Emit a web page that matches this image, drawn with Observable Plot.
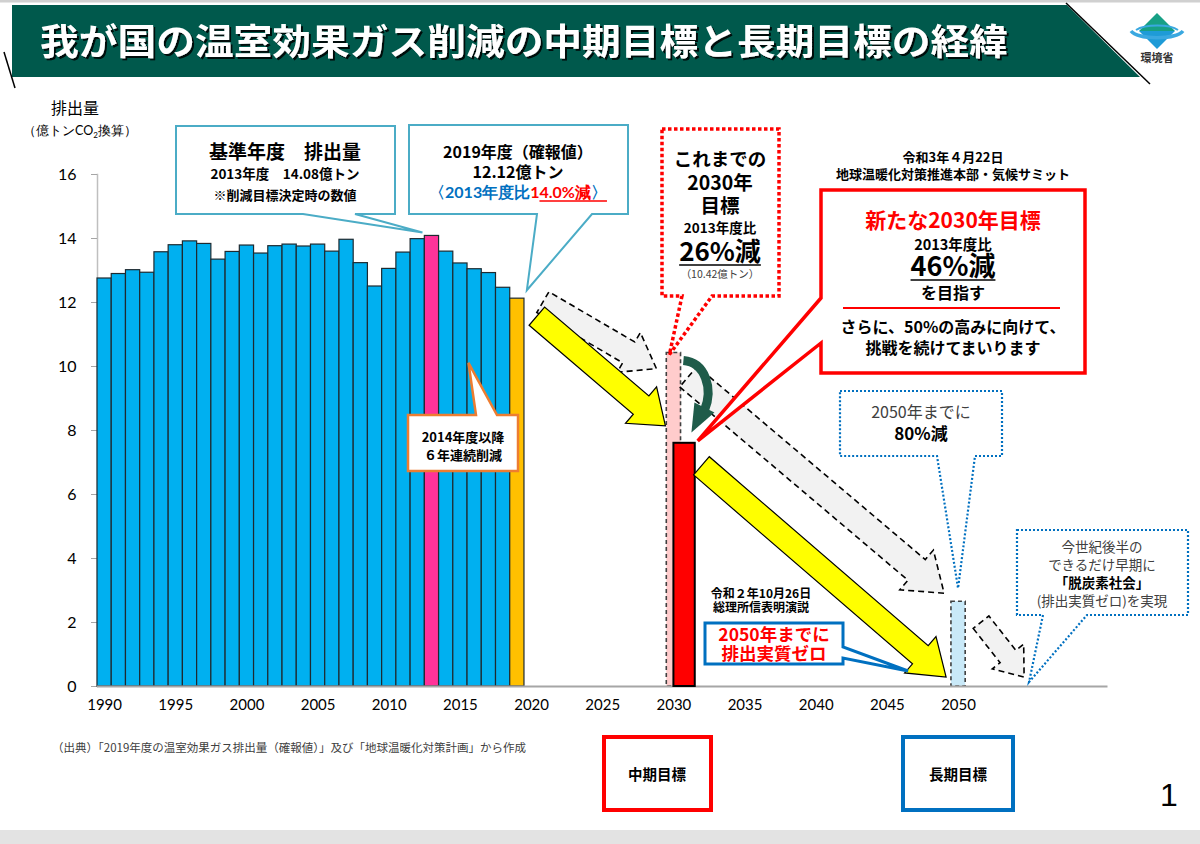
<!DOCTYPE html>
<html lang="ja">
<head>
<meta charset="utf-8">
<script src="https://cdn.jsdelivr.net/npm/d3@7"></script>
<script src="https://cdn.jsdelivr.net/npm/@observablehq/plot@0.6"></script>
<style>
  html, body { margin: 0; padding: 0; background: #fff; }
  #chart { width: 1200px; height: 844px; position: relative; }
</style>
</head>
<body>
<div id="chart"></div>
<script>
// ---------------- data ----------------
const histYears = [1990,1991,1992,1993,1994,1995,1996,1997,1998,1999,2000,2001,2002,2003,2004,2005,2006,2007,2008,2009,2010,2011,2012,2013,2014,2015,2016,2017,2018,2019];
const histValues = [12.75,12.89,13.01,12.93,13.57,13.79,13.91,13.83,13.34,13.58,13.78,13.53,13.76,13.81,13.75,13.81,13.59,13.96,13.23,12.50,13.05,13.56,13.98,14.08,13.59,13.22,13.04,12.92,12.46,12.12];
const baseYear = 2013;
const latestYear = 2019;
const targetYear2030 = 2030;
const targetYear2050 = 2050;
const oldTarget2030 = 10.42;   // 26%減
const newTarget2030 = 7.60;    // 46%減
const target2050 = 2.65;       // 80%減
const xTickYears = [1990,1995,2000,2005,2010,2015,2020,2025,2030,2035,2040,2045,2050];
const yTicks = [0,2,4,6,8,10,12,14,16];

const hist = histYears.map((year, i) => ({year, value: histValues[i]}));
const valueOf = y => histValues[histYears.indexOf(y)];

const JP = "'Noto Sans CJK JP', 'Noto Sans', sans-serif";

const plot = Plot.plot({
  width: 1200, height: 844,
  marginLeft: 97, marginRight: 92.5, marginTop: 174, marginBottom: 158,
  style: {fontFamily: "Lato, sans-serif", background: "transparent", color: "#000"},
  x: {domain: [1989.5, 2060.5], label: null},
  y: {domain: [0, 16], label: null},
  marks: [
    Plot.frame({anchor: "left", stroke: "#bfbfbf", strokeWidth: 1.5}),
    Plot.axisY(yTicks, {tickSize: 6, tickPadding: 15, stroke: "#a6a6a6", fill: "#000", fontSize: 16, label: null}),
    Plot.axisX(xTickYears, {tickSize: 0, tickPadding: 13, fill: "#000", fontSize: 15, tickFormat: d => String(d), label: null}),
    Plot.rectY(hist, {
      x1: d => d.year - 0.5, x2: d => d.year + 0.5, y: "value",
      fill: d => d.year === baseYear ? "#ff3399" : d.year === latestYear ? "#ffc000" : "#00b0f0",
      stroke: "#1e2a30", strokeWidth: 1.2
    }),
    Plot.rectY([oldTarget2030], {x1: targetYear2030 - 0.5, x2: targetYear2030 + 0.5, y: d => d,
      fill: "#ffcccc", stroke: "#404040", strokeWidth: 1.6, strokeDasharray: "4 3"}),
    Plot.rectY([target2050], {x1: targetYear2050 - 0.5, x2: targetYear2050 + 0.5, y: d => d,
      fill: "#c9e9f8", stroke: "#404040", strokeWidth: 1.6, strokeDasharray: "4 3"}),
    Plot.ruleY([0], {stroke: "#a6a6a6", strokeWidth: 2})
  ]
});
document.getElementById("chart").appendChild(plot);

// scales
const sx = plot.scale("x"), sy = plot.scale("y");
const X = d3.scaleLinear(sx.domain, sx.range);
const Y = d3.scaleLinear(sy.domain, sy.range);

const svg = d3.select(plot);
svg.attr("font-family", JP);

// drop shadow filter for title
const defs = svg.append("defs");
const f = defs.append("filter").attr("id", "tshadow").attr("x", "-5%").attr("y", "-20%").attr("width", "110%").attr("height", "150%");
f.append("feDropShadow").attr("dx", 2).attr("dy", 2).attr("stdDeviation", 0.6).attr("flood-color", "#000").attr("flood-opacity", 0.85);

// ---------- helpers ----------
function text(g, x, y, str, o = {}) {
  const t = g.append("text").attr("x", x).attr("y", y)
    .attr("text-anchor", o.anchor || "middle")
    .attr("font-family", o.family || JP)
    .attr("font-size", o.size || 14)
    .attr("font-weight", o.weight || "bold")
    .attr("fill", o.fill || "#000");
  if (o.len) t.attr("textLength", o.len).attr("lengthAdjust", "spacingAndGlyphs");
  t.text(str);
  return t;
}
function underline(g, t, dy, color, w) {
  const bb = t.node().getBBox();
  g.append("line").attr("x1", bb.x).attr("x2", bb.x + bb.width)
    .attr("y1", +t.attr("y") + dy).attr("y2", +t.attr("y") + dy)
    .attr("stroke", color).attr("stroke-width", w);
}
function callout(x0, y0, x1, y1, side, b1, b2, tip) {
  const [tx, ty] = tip;
  if (side === "bottom") return `M${x0},${y0}L${x1},${y0}L${x1},${y1}L${b2},${y1}L${tx},${ty}L${b1},${y1}L${x0},${y1}Z`;
  if (side === "top") return `M${x0},${y0}L${b1},${y0}L${tx},${ty}L${b2},${y0}L${x1},${y0}L${x1},${y1}L${x0},${y1}Z`;
  if (side === "left") return `M${x0},${y0}L${x1},${y0}L${x1},${y1}L${x0},${y1}L${x0},${b2}L${tx},${ty}L${x0},${b1}Z`;
  return `M${x0},${y0}L${x1},${y0}L${x1},${b1}L${tx},${ty}L${x1},${b2}L${x1},${y1}L${x0},${y1}Z`;
}
function arrow(tail, tip, sw, hw, hl) {
  const dx = tip[0] - tail[0], dy = tip[1] - tail[1];
  const L = Math.hypot(dx, dy), ux = dx / L, uy = dy / L, nx = -uy, ny = ux;
  const nk = [tip[0] - ux * hl, tip[1] - uy * hl];
  const p = (b, s) => [b[0] + nx * s, b[1] + ny * s];
  const pts = [p(tail, sw/2), p(nk, sw/2), p(nk, hw/2), tip, p(nk, -hw/2), p(nk, -sw/2), p(tail, -sw/2)];
  return "M" + pts.map(q => q.map(v => v.toFixed(1)).join(",")).join("L") + "Z";
}

// ---------- new target bar (red) ----------
const gBars = svg.append("g");
gBars.append("rect").attr("x", X(targetYear2030)).attr("width", X(targetYear2030 + 1.5) - X(targetYear2030))
  .attr("y", Y(newTarget2030)).attr("height", Y(0) - Y(newTarget2030))
  .attr("fill", "#ff0000").attr("stroke", "#000").attr("stroke-width", 2);

// ---------- arrows ----------
const gA = svg.append("g");
const x19 = X(latestYear), y19 = Y(valueOf(latestYear));
const x30 = X(targetYear2030), yOld = Y(oldTarget2030), yNew = Y(newTarget2030);
const x50 = X(targetYear2050), y50 = Y(target2050), y0 = Y(0);
const grayStyle = s => s.attr("fill", "#f2f2f2").attr("stroke", "#000").attr("stroke-width", 1.6).attr("stroke-dasharray", "6 4");
const yellowStyle = s => s.attr("fill", "#ffff00").attr("stroke", "#000").attr("stroke-width", 1.2);

grayStyle(gA.append("path").attr("d", arrow([x19 + 26, y19 + 4], [x30 - 17, yOld + 16], 24, 46, 32)));
grayStyle(gA.append("path").attr("d", arrow([x30 + 15, yOld + 24], [x50 - 14, y50 - 8], 27, 52, 36)));
grayStyle(gA.append("path").attr("d", arrow([x50 + 23, y50 + 21], [x50 + 66, y0 - 9], 20, 40, 26)));
yellowStyle(gA.append("path").attr("d", arrow([x19 + 20, y19 + 18], [x30 - 8, yNew - 17], 24, 48, 32)));
yellowStyle(gA.append("path").attr("d", arrow([x30 + 28, yNew + 23], [x50 - 12, y0 - 9], 24, 48, 34)));

// curved green arrow (old target -> new target)
gA.append("path")
  .attr("d", `M${x30 + 10},${yOld + 8} C${x30 + 32},${yOld + 10} ${x30 + 40},${yOld + 36} ${x30 + 31},${yOld + 58}`)
  .attr("fill", "none").attr("stroke", "#1f5c4a").attr("stroke-width", 9);
gA.append("path")
  .attr("d", `M${x30 + 21},${yOld + 50} L${x30 + 41},${yOld + 60} L${x30 + 18},${yOld + 80} Z`)
  .attr("fill", "#1f5c4a");

// ---------- callouts ----------
const gC = svg.append("g");
// 1. base year
gC.append("path").attr("d", callout(176, 126, 395, 214, "bottom", 303, 355, [X(baseYear) - 9, Y(valueOf(baseYear)) - 3]))
  .attr("fill", "#fff").attr("stroke", "#4bacc6").attr("stroke-width", 2);
text(gC, 285, 159, "基準年度　排出量", {size: 19});
text(gC, 285, 179, "2013年度　14.08億トン", {size: 13.5});
text(gC, 285, 200, "※削減目標決定時の数値", {size: 13});

// 2. latest year
gC.append("path").attr("d", callout(409, 125, 628, 214, "bottom", 537, 592, [x19 + 10, y19 - 8]))
  .attr("fill", "#fff").attr("stroke", "#4bacc6").attr("stroke-width", 2);
text(gC, 518, 158, "2019年度（確報値）", {size: 16});
text(gC, 518, 178, "12.12億トン", {size: 16});
{
  const t = gC.append("text").attr("x", 518).attr("y", 198).attr("text-anchor", "middle")
    .attr("font-size", 16).attr("font-weight", "bold").attr("fill", "#0070c0");
  t.append("tspan").text("〈2013年度比");
  t.append("tspan").attr("fill", "#ff0000").text("14.0%減");
  t.append("tspan").text("〉");
  const tl = t.node().getComputedTextLength();
  const startX = 518 - tl / 2;
  const pre = t.node().getSubStringLength(0, 9);
  const redW = t.node().getSubStringLength(9, 6);
  gC.append("line").attr("x1", startX + pre).attr("x2", startX + pre + redW).attr("y1", 201).attr("y2", 201)
    .attr("stroke", "#ff0000").attr("stroke-width", 1.5);
}

// 3. continuous decline
gC.append("path").attr("d", callout(408, 415, 518, 471, "top", 476, 497, [X(2015.6), Y(10.1)]))
  .attr("fill", "#fff").attr("stroke", "#ed7d31").attr("stroke-width", 2.5);
text(gC, 463, 442, "2014年度以降", {size: 13});
text(gC, 463, 460, "６年連続削減", {size: 13});

// 4. old 2030 target (red dotted)
gC.append("path").attr("d", callout(662, 129, 779, 296, "bottom", 682, 712, [x30 - 4, yOld + 2]))
  .attr("fill", "#fff").attr("stroke", "#ff0000").attr("stroke-width", 3.5).attr("stroke-dasharray", "3.5 2.5");
text(gC, 720, 166, "これまでの", {size: 18.5});
text(gC, 720, 190, "2030年", {size: 19.5});
text(gC, 720, 213, "目標", {size: 19.5});
text(gC, 720, 233, "2013年度比", {size: 13.5});
underline(gC, text(gC, 720, 261, "26%減", {size: 26}), 4, "#000", 1.6);
text(gC, 720, 278, "（10.42億トン）", {size: 10.5, weight: "normal", fill: "#404040"});

// 5. new 2030 target (red box)
text(gC, 953, 162, "令和3年４月22日", {size: 13});
text(gC, 953, 179, "地球温暖化対策推進本部・気候サミット", {size: 13});
gC.append("path").attr("d", callout(821, 190, 1085, 373, "left", 298, 343, [X(targetYear2030 + 1.5) + 3, yNew - 2]))
  .attr("fill", "#fff").attr("stroke", "#ff0000").attr("stroke-width", 3.5);
text(gC, 953, 228, "新たな2030年目標", {size: 21, fill: "#ff0000"});
text(gC, 953, 250, "2013年度比", {size: 14.5});
underline(gC, text(gC, 953, 276, "46%減", {size: 27}), 4, "#000", 1.6);
text(gC, 953, 299, "を目指す", {size: 16});
gC.append("line").attr("x1", 843).attr("x2", 1060).attr("y1", 308).attr("y2", 308).attr("stroke", "#ff0000").attr("stroke-width", 2);
text(gC, 953, 333, "さらに、50%の高みに向けて、", {size: 16});
text(gC, 953, 354, "挑戦を続けてまいります", {size: 16});

// 6. 2050 80% (blue dotted)
gC.append("path").attr("d", callout(840, 391, 1002, 456, "bottom", 937, 975, [x50, y50 - 13]))
  .attr("fill", "#fff").attr("stroke", "#0070c0").attr("stroke-width", 2.2).attr("stroke-dasharray", "2 2");
text(gC, 921, 418, "2050年までに", {size: 16, weight: "normal", fill: "#404040"});
text(gC, 921, 440, "80%減", {size: 17});

// 7. carbon neutral society (blue dotted)
gC.append("path").attr("d", callout(1017, 530, 1188, 615, "bottom", 1043, 1087, [x50 + 71, y0 - 4]))
  .attr("fill", "#fff").attr("stroke", "#0070c0").attr("stroke-width", 2.2).attr("stroke-dasharray", "2 2");
text(gC, 1102, 552, "今世紀後半の", {size: 13.5, weight: "normal", fill: "#404040"});
text(gC, 1102, 570, "できるだけ早期に", {size: 13.5, weight: "normal", fill: "#404040"});
text(gC, 1102, 588, "「脱炭素社会」", {size: 13.5});
text(gC, 1102, 606, "(排出実質ゼロ)を実現", {size: 13.5, weight: "normal", fill: "#404040"});

// 8. net zero 2050 (blue box)
text(gC, 761, 598, "令和２年10月26日", {size: 12});
text(gC, 761, 612, "総理所信表明演説", {size: 12});
gC.append("path").attr("d", callout(705, 623, 843, 664, "right", 647, 658, [x50 - 50, y0 - 15]))
  .attr("fill", "#fff").attr("stroke", "#0070c0").attr("stroke-width", 3);
text(gC, 774, 641, "2050年までに", {size: 17.5, fill: "#ff0000"});
text(gC, 774, 660, "排出実質ゼロ", {size: 17.5, fill: "#ff0000"});

// ---------- header ----------
const gH = svg.append("g");
gH.append("rect").attr("x", 0).attr("y", 0).attr("width", 1200).attr("height", 2.5).attr("fill", "#d0d0d0");
gH.append("path").attr("d", "M12,5L1067,5L1140,77L12,77Z").attr("fill", "#00594c");
gH.append("line").attr("x1", 1066).attr("y1", 3).attr("x2", 1150).attr("y2", 84).attr("stroke", "#000").attr("stroke-width", 1.5);
gH.append("line").attr("x1", 4).attr("y1", 52).attr("x2", 15).attr("y2", 88).attr("stroke", "#000").attr("stroke-width", 1.5);
text(gH, 40, 55, "我が国の温室効果ガス削減の中期目標と長期目標の経緯", {anchor: "start", size: 36, fill: "#fff", len: 968})
  .attr("filter", "url(#tshadow)");
// logo
gH.append("path").attr("d", "M1157,13L1175,31L1139,31Z").attr("fill", "#17a085");
gH.append("path").attr("d", "M1139,31L1175,31L1157,49Z").attr("fill", "#1e9bd7");
gH.append("path").attr("d", "M1131,31 C1138,40 1176,40 1183,31").attr("fill", "none").attr("stroke", "#3aa8e0").attr("stroke-width", 3.5);
gH.append("path").attr("d", "M1136,30 C1145,24 1170,24 1178,30").attr("fill", "none").attr("stroke", "#3aa8e0").attr("stroke-width", 2);
text(gH, 1157, 62, "環境省", {size: 11, fill: "#333"});

// y axis title
text(svg, 75, 114, "排出量", {size: 16, weight: "normal"});
{
  const t = svg.append("text").attr("x", 80).attr("y", 135).attr("text-anchor", "middle")
    .attr("font-size", 12.5).attr("fill", "#000");
  t.append("tspan").text("（億トンCO");
  t.append("tspan").attr("font-size", 8).attr("dy", 3).text("2");
  t.append("tspan").attr("dy", -3).text("換算）");
}

// ---------- footer ----------
text(svg, 52, 752, "（出典）「2019年度の温室効果ガス排出量（確報値）」及び「地球温暖化対策計画」から作成", {anchor: "start", size: 11.5, weight: "normal", fill: "#404040"});
svg.append("rect").attr("x", 604).attr("y", 737).attr("width", 107).attr("height", 73).attr("fill", "none").attr("stroke", "#ff0000").attr("stroke-width", 4);
text(svg, 657, 780, "中期目標", {size: 14.5});
svg.append("rect").attr("x", 903).attr("y", 737).attr("width", 110).attr("height", 73).attr("fill", "none").attr("stroke", "#0070c0").attr("stroke-width", 4);
text(svg, 958, 780, "長期目標", {size: 14.5});
text(svg, 1169, 806, "1", {size: 32, weight: "normal", family: "'Liberation Sans', Arial, sans-serif"});
svg.append("rect").attr("x", 0).attr("y", 830).attr("width", 1200).attr("height", 14).attr("fill", "#e3e3e3");
</script>
</body>
</html>
